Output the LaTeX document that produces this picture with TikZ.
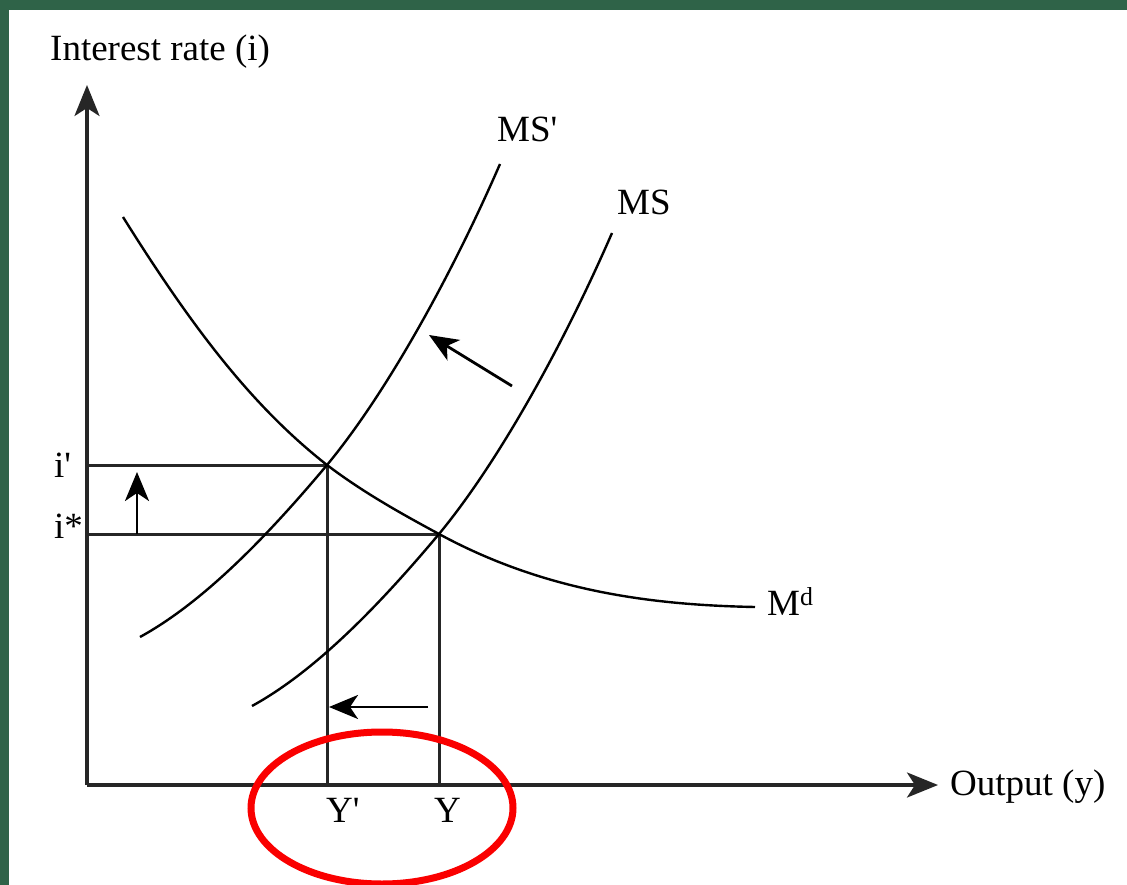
\documentclass[tikz,border=0pt]{standalone}
\usepackage{fontspec}
\setmainfont{Liberation Serif}
\usetikzlibrary{arrows.meta}
\definecolor{bordergreen}{RGB}{47,99,72}
\definecolor{markred}{RGB}{250,0,0}
\tikzset{
  curve/.style={line width=2.4pt, black},
  guide/.style={line width=3pt, black!85},
  axis/.style={line width=3.3pt, black!85, -{Stealth[length=31pt,width=25pt,inset=8pt]}},
  shift arrow/.style={line width=2.8pt, black, -{Stealth[length=29pt,width=24pt,inset=8pt]}},
  lbl/.style={font=\fontsize{37}{40}\selectfont, inner sep=0pt},
  circlemark/.style={draw=markred, line width=7pt}
}
\begin{document}
\begin{tikzpicture}[x=1pt,y=-1pt]
\useasboundingbox (0,0) rectangle (1127,885);
\fill[bordergreen] (0,0) rectangle (1127,885);
\fill[white] (9,10) rectangle (1127,885);

% key coordinates
\coordinate (O) at (87,785);
\coordinate (ytop) at (87,85);
\coordinate (xend) at (938,785);
\coordinate (E1) at (327,465);
\coordinate (E0) at (439,534);
\coordinate (ip) at (87,465);
\coordinate (is) at (87,534);
\coordinate (Yp) at (327,785);
\coordinate (Yb) at (439,785);

% axes
\draw[axis] (O) -- (ytop);
\draw[axis] (O) -- (xend);

% guide lines
\draw[guide] (ip) -- (E1) -- (Yp);
\draw[guide] (is) -- (E0) -- (Yb);

% money demand
\draw[curve] (123,217) .. controls (198,337) and (257,410) .. (E1)
  .. controls (364,493) and (402,514) .. (E0)
  .. controls (544,591) and (650,605) .. (755,607);
% money supply MS' and MS (MS = MS' shifted by (112,69))
\draw[curve] (140,637) .. controls (202,603) and (265,539) .. (E1)
  .. controls (385,395) and (450,279) .. (500,164);
\draw[curve, xshift=112pt, yshift=-69pt] (140,637) .. controls (202,603) and (265,539) .. (327,465)
  .. controls (385,395) and (450,279) .. (500,164);

% shift arrows
\coordinate (a1s) at (137,534);
\coordinate (a1e) at (137,472);
\draw[shift arrow] (a1s) -- (a1e);
\coordinate (a2s) at (428,707);
\coordinate (a2e) at (329,707);
\draw[shift arrow] (a2s) -- (a2e);
\coordinate (a3s) at (512,386);
\coordinate (a3e) at (429,335);
\draw[shift arrow] (a3s) -- (a3e);

% labels
\node[lbl, anchor=base west] (ylab) at (50,61) {Interest rate (i)};
\node[lbl, anchor=base west] (xlab) at (950,795) {Output (y)};
\node[lbl, anchor=base west] (msp) at (497,142) {MS\textquotesingle};
\node[lbl, anchor=base west] (ms) at (617,215) {MS};
\node[lbl, anchor=base west] (md) at (767,615) {M\textsuperscript{d}};
\node[lbl, anchor=base west] (iplab) at (54,477) {i\textquotesingle};
\node[lbl, anchor=base west] (islab) at (54,538) {i*};
\node[lbl, anchor=base west] (Yplab) at (326,822) {Y\textquotesingle};
\node[lbl, anchor=base west] (Ylab) at (434,822) {Y};

% red ellipse
\draw[circlemark] (382,808) ellipse [x radius=131pt, y radius=76pt];
\end{tikzpicture}
\end{document}
